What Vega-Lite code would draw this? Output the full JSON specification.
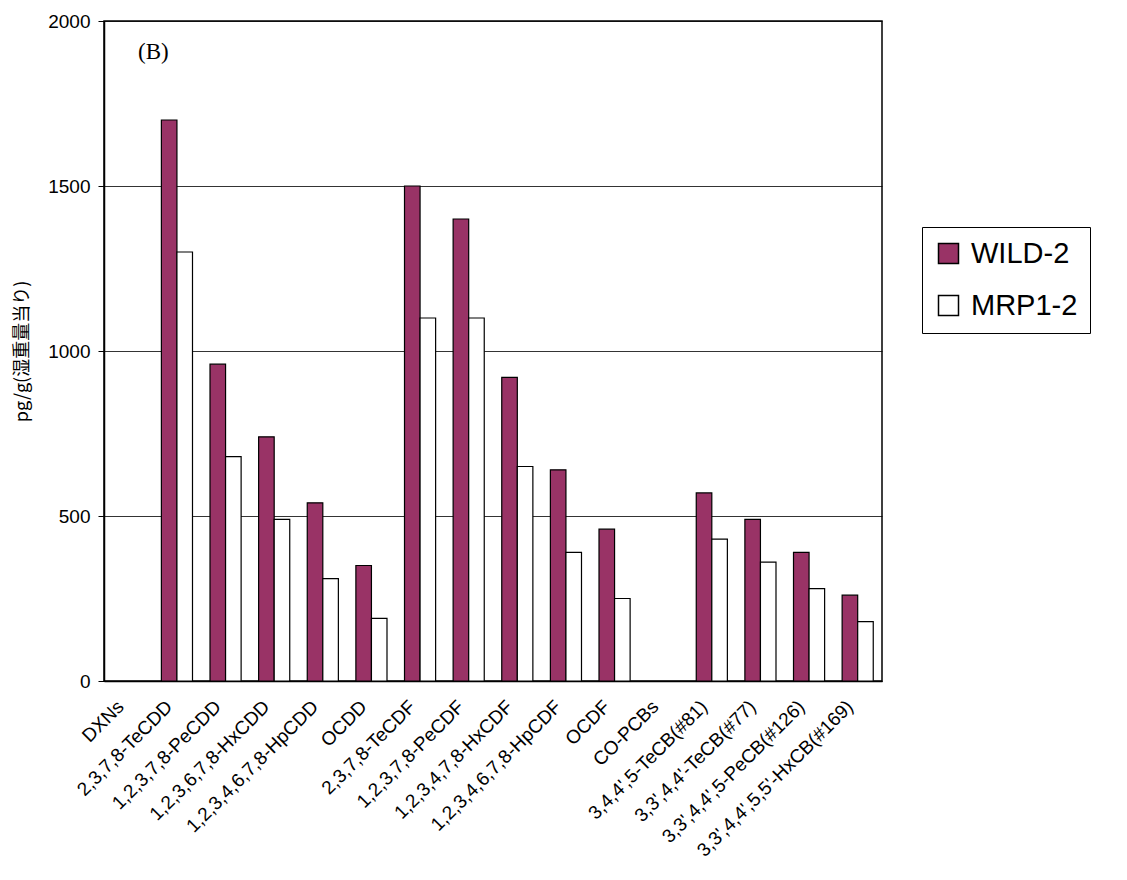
{
  "$schema": "https://vega.github.io/schema/vega-lite/v6.json",
  "width": 778,
  "height": 660,
  "autosize": "none",
  "padding": {"left": 104, "top": 21, "right": 245, "bottom": 199},
  "background": "white",
  "config": {
    "view": {"stroke": "black", "strokeWidth": 1.5},
    "font": "Liberation Sans"
  },
  "title": {
    "text": "(B)",
    "anchor": "start",
    "frame": "group",
    "orient": "top",
    "offset": -52,
    "dx": 34,
    "font": "Liberation Serif",
    "fontSize": 23,
    "fontWeight": "normal",
    "color": "black"
  },
  "data": {
    "values": [
      {"compound": "2,3,7,8-TeCDD", "group": "WILD-2", "value": 1700},
      {"compound": "2,3,7,8-TeCDD", "group": "MRP1-2", "value": 1300},
      {"compound": "1,2,3,7,8-PeCDD", "group": "WILD-2", "value": 960},
      {"compound": "1,2,3,7,8-PeCDD", "group": "MRP1-2", "value": 680},
      {"compound": "1,2,3,6,7,8-HxCDD", "group": "WILD-2", "value": 740},
      {"compound": "1,2,3,6,7,8-HxCDD", "group": "MRP1-2", "value": 490},
      {"compound": "1,2,3,4,6,7,8-HpCDD", "group": "WILD-2", "value": 540},
      {"compound": "1,2,3,4,6,7,8-HpCDD", "group": "MRP1-2", "value": 310},
      {"compound": "OCDD", "group": "WILD-2", "value": 350},
      {"compound": "OCDD", "group": "MRP1-2", "value": 190},
      {"compound": "2,3,7,8-TeCDF", "group": "WILD-2", "value": 1500},
      {"compound": "2,3,7,8-TeCDF", "group": "MRP1-2", "value": 1100},
      {"compound": "1,2,3,7,8-PeCDF", "group": "WILD-2", "value": 1400},
      {"compound": "1,2,3,7,8-PeCDF", "group": "MRP1-2", "value": 1100},
      {"compound": "1,2,3,4,7,8-HxCDF", "group": "WILD-2", "value": 920},
      {"compound": "1,2,3,4,7,8-HxCDF", "group": "MRP1-2", "value": 650},
      {"compound": "1,2,3,4,6,7,8-HpCDF", "group": "WILD-2", "value": 640},
      {"compound": "1,2,3,4,6,7,8-HpCDF", "group": "MRP1-2", "value": 390},
      {"compound": "OCDF", "group": "WILD-2", "value": 460},
      {"compound": "OCDF", "group": "MRP1-2", "value": 250},
      {"compound": "3,4,4',5-TeCB(#81)", "group": "WILD-2", "value": 570},
      {"compound": "3,4,4',5-TeCB(#81)", "group": "MRP1-2", "value": 430},
      {"compound": "3,3',4,4'-TeCB(#77)", "group": "WILD-2", "value": 490},
      {"compound": "3,3',4,4'-TeCB(#77)", "group": "MRP1-2", "value": 360},
      {"compound": "3,3',4,4',5-PeCB(#126)", "group": "WILD-2", "value": 390},
      {"compound": "3,3',4,4',5-PeCB(#126)", "group": "MRP1-2", "value": 280},
      {"compound": "3,3',4,4',5,5'-HxCB(#169)", "group": "WILD-2", "value": 260},
      {"compound": "3,3',4,4',5,5'-HxCB(#169)", "group": "MRP1-2", "value": 180}
    ]
  },
  "mark": {"type": "bar", "stroke": "black", "strokeWidth": 1.2},
  "encoding": {
    "x": {
      "field": "compound",
      "type": "nominal",
      "scale": {
        "domain": ["DXNs", "2,3,7,8-TeCDD", "1,2,3,7,8-PeCDD", "1,2,3,6,7,8-HxCDD", "1,2,3,4,6,7,8-HpCDD", "OCDD", "2,3,7,8-TeCDF", "1,2,3,7,8-PeCDF", "1,2,3,4,7,8-HxCDF", "1,2,3,4,6,7,8-HpCDF", "OCDF", "CO-PCBs", "3,4,4',5-TeCB(#81)", "3,3',4,4'-TeCB(#77)", "3,3',4,4',5-PeCB(#126)", "3,3',4,4',5,5'-HxCB(#169)"],
        "paddingInner": 0.36,
        "paddingOuter": 0.18
      },
      "axis": {
        "title": null,
        "labelAngle": -45,
        "labelFontSize": 19,
        "labelColor": "black",
        "labelAlign": "right",
        "labelBaseline": "top",
        "labelPadding": 16,
        "labelOffset": -14,
        "ticks": false,
        "domainColor": "black",
        "domainWidth": 1.5,
        "labelLimit": 300
      }
    },
    "xOffset": {"field": "group", "type": "nominal", "sort": ["WILD-2", "MRP1-2"]},
    "y": {
      "field": "value",
      "type": "quantitative",
      "scale": {"domain": [0, 2000]},
      "axis": {
        "values": [0, 500, 1000, 1500, 2000],
        "format": "d",
        "title": "pg/g(湿重量当り)",
        "titleFont": "Noto Sans CJK JP",
        "titleFontSize": 18,
        "titleFontWeight": "normal",
        "titleColor": "black",
        "titlePadding": 16,
        "labelFontSize": 19,
        "labelColor": "black",
        "labelPadding": 8,
        "tickSize": 6,
        "tickColor": "black",
        "domainColor": "black",
        "domainWidth": 1.5,
        "grid": true,
        "gridColor": "black",
        "gridWidth": 0.8
      }
    },
    "fill": {
      "field": "group",
      "type": "nominal",
      "scale": {"domain": ["WILD-2", "MRP1-2"], "range": ["#993366", "#ffffff"]},
      "legend": {
        "title": null,
        "orient": "none",
        "legendX": 818,
        "legendY": 206,
        "symbolType": "square",
        "symbolSize": 400,
        "symbolStrokeColor": "black",
        "symbolStrokeWidth": 1.5,
        "labelFontSize": 29,
        "labelColor": "black",
        "labelFont": "Liberation Sans",
        "rowPadding": 22,
        "padding": 12,
        "strokeColor": "black",
        "fillColor": "white",
        "labelOffset": 8,
        "labelLimit": 300
      }
    }
  }
}
